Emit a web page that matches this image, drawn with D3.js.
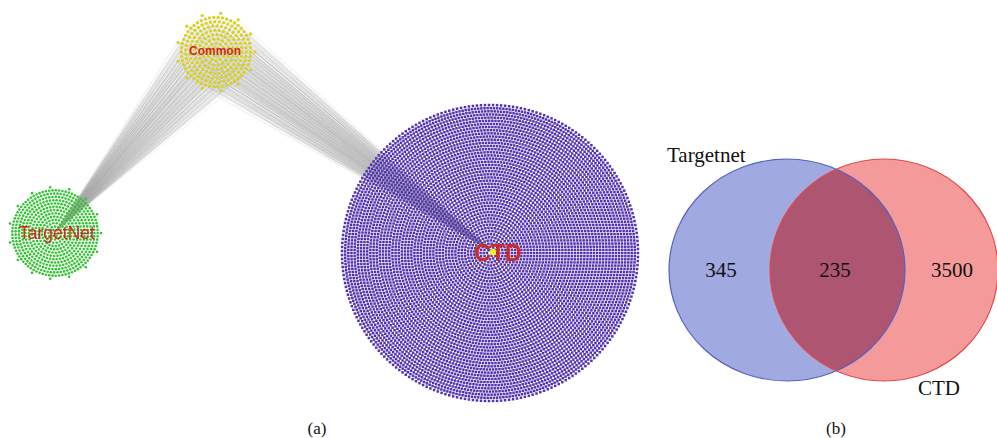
<!DOCTYPE html>
<html><head><meta charset="utf-8">
<script src="https://cdn.jsdelivr.net/npm/d3@7"></script>
<style>body{margin:0;background:#fff}svg{display:block}</style>
</head><body>
<svg id="c" width="997" height="438"></svg>
<script>
// ---- data ----
const clusterNames = ["TargetNet", "Common", "CTD"];
const clusterNodeCounts = [580, 235, 7000];   // nodes drawn per cluster
const vennSets = ["Targetnet", "CTD"];
const vennRegions = ["Targetnet only", "Both", "CTD only"];
const vennCounts = [345, 235, 3500];
const panelLabels = ["(a)", "(b)"];

// ---- layout / styles ----
const svg = d3.select("#c");
svg.append("rect").attr("width", 997).attr("height", 438).attr("fill", "#fff");

const geom = {
  TargetNet: {cx: 55, cy: 233, r: 46, color: "#2fc42f", size: 2.6, shape: "circle",
              lx: 57, ly: 239, fs: 17.5, fw: "normal"},
  Common:    {cx: 216, cy: 52, r: 39, color: "#d8d220", size: 3.3, shape: "circle",
              lx: 215, ly: 55, fs: 12, fw: "bold"},
  CTD:       {cx: 490, cy: 253, r: 148, color: "#5232b0", size: 2.5, shape: "rect",
              lx: 498, ly: 261, fs: 23, fw: "bold"}
};

function concentric(n) {
  const rings = []; let total = 0, k = 0;
  while (total < n) { k++; const m = Math.floor(2 * Math.PI * k); rings.push(m); total += m; }
  rings[rings.length - 1] -= (total - n);
  const K = rings.length, pts = [];
  rings.forEach((m, i) => {
    const rr = (i + 1) / K;
    for (let j = 0; j < m; j++) {
      const a = 2 * Math.PI * j / m;
      pts.push([rr * Math.cos(a), rr * Math.sin(a)]);
    }
  });
  return pts;
}

const nodes = {};
clusterNames.forEach((name, i) => {
  const g = geom[name];
  const x = d3.scaleLinear().domain([-1, 1]).range([g.cx - g.r, g.cx + g.r]);
  const y = d3.scaleLinear().domain([-1, 1]).range([g.cy - g.r, g.cy + g.r]);
  nodes[name] = concentric(clusterNodeCounts[i]).map(p => [x(p[0]), y(p[1])]);
});

// edges: each common node -> TargetNet hub and CTD hub
const hubs = {TargetNet: [geom.TargetNet.cx + 3, geom.TargetNet.cy - 4], CTD: [493, 252]};
const edgeG = svg.append("g").attr("stroke", "#a0a0a0").attr("stroke-width", 0.5).attr("stroke-opacity", 0.3);
["TargetNet", "CTD"].forEach(h => {
  edgeG.selectAll(null).data(nodes.Common).join("line")
    .attr("x1", d => d[0]).attr("y1", d => d[1])
    .attr("x2", hubs[h][0]).attr("y2", hubs[h][1]);
});

// nodes
clusterNames.forEach(name => {
  const g = geom[name];
  const grp = svg.append("g").attr("fill", g.color);
  if (g.shape === "rect") {
    grp.selectAll(null).data(nodes[name]).join("rect")
      .attr("x", d => d[0] - g.size / 2).attr("y", d => d[1] - g.size / 2)
      .attr("width", g.size).attr("height", g.size);
  } else {
    grp.selectAll(null).data(nodes[name]).join("circle")
      .attr("cx", d => d[0]).attr("cy", d => d[1]).attr("r", g.size / 2);
  }
});

// CTD hub (drug node)
svg.append("circle").attr("cx", hubs.CTD[0]).attr("cy", hubs.CTD[1]).attr("r", 3.2).attr("fill", "#f5ee20");

// cluster labels
clusterNames.forEach(name => {
  const g = geom[name];
  svg.append("text").attr("x", g.lx).attr("y", g.ly).attr("text-anchor", "middle")
    .attr("font-family", "Liberation Sans, Arial, sans-serif")
    .attr("font-size", g.fs).attr("font-weight", g.fw).attr("fill", "#cf2a22")
    .text(name);
});

// ---- Venn ----
const A = {cx: 787, cy: 270, rx: 118, ry: 111};
const B = {cx: 884, cy: 270, rx: 114, ry: 111};
const defs = svg.append("defs");
defs.append("clipPath").attr("id", "clipA").append("ellipse")
  .attr("cx", A.cx).attr("cy", A.cy).attr("rx", A.rx).attr("ry", A.ry);

svg.append("ellipse").attr("cx", A.cx).attr("cy", A.cy).attr("rx", A.rx).attr("ry", A.ry)
  .attr("fill", "#a0a9e0");
svg.append("ellipse").attr("cx", B.cx).attr("cy", B.cy).attr("rx", B.rx).attr("ry", B.ry)
  .attr("fill", "#f59a9a");
svg.append("ellipse").attr("cx", B.cx).attr("cy", B.cy).attr("rx", B.rx).attr("ry", B.ry)
  .attr("clip-path", "url(#clipA)").attr("fill", "#ad5571");
svg.append("ellipse").attr("cx", A.cx).attr("cy", A.cy).attr("rx", A.rx).attr("ry", A.ry)
  .attr("fill", "none").attr("stroke", "#5560c4").attr("stroke-width", 1.2);
svg.append("ellipse").attr("cx", B.cx).attr("cy", B.cy).attr("rx", B.rx).attr("ry", B.ry)
  .attr("fill", "none").attr("stroke", "#e04848").attr("stroke-width", 1.2);

const serif = "Liberation Serif, Times New Roman, serif";
const countX = [721, 835, 952];
vennCounts.forEach((v, i) => {
  svg.append("text").attr("x", countX[i]).attr("y", 277).attr("text-anchor", "middle")
    .attr("font-family", serif).attr("font-size", 21).attr("fill", "#111").text(v);
});
svg.append("text").attr("x", 667).attr("y", 162).attr("font-family", serif)
  .attr("font-size", 21).attr("fill", "#111").text(vennSets[0]);
svg.append("text").attr("x", 939).attr("y", 395).attr("text-anchor", "middle").attr("font-family", serif)
  .attr("font-size", 21).attr("fill", "#111").text(vennSets[1]);

// panel labels
[317, 836].forEach((x, i) => {
  svg.append("text").attr("x", x).attr("y", 434).attr("text-anchor", "middle")
    .attr("font-family", serif).attr("font-size", 17).attr("fill", "#111").text(panelLabels[i]);
});
</script>
</body></html>
